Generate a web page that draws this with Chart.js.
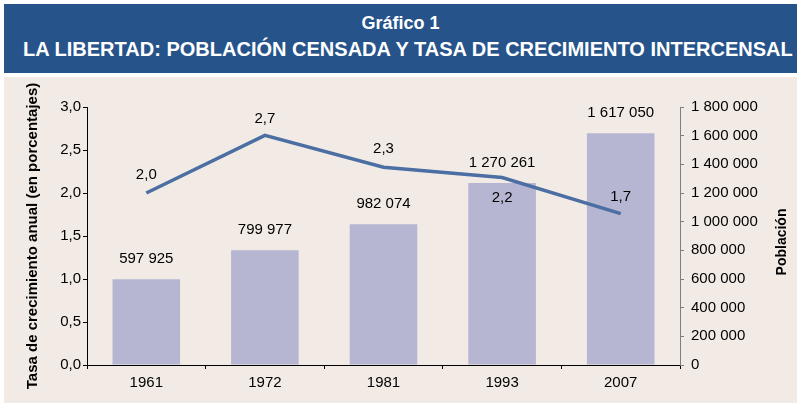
<!DOCTYPE html>
<html>
<head>
<meta charset="utf-8">
<script src="https://cdn.jsdelivr.net/npm/chart.js@4"></script>
<style>
  body { margin: 0; background: #ffffff; width: 799px; height: 405px; position: relative; overflow: hidden; }
  #header {
    position: absolute; left: 4px; top: 4px; width: 793px; height: 69px;
    background: #26538a; color: #ffffff; text-align: center;
    font-family: "Liberation Sans", Arial, sans-serif; font-weight: bold;
  }
  #header div { position: absolute; left: 0; right: 0; white-space: nowrap; }
  #header span { display: inline-block; transform-origin: center; }
  #header .l1 { top: 9px; font-size: 18px; }
  #header .l2 { top: 33px; font-size: 21px; }
  #panel { position: absolute; left: 4px; top: 77px; width: 793px; height: 326px; background: #f2ebe5; }
</style>
</head>
<body>
<div id="header">
  <div class="l1"><span id="t1">Gráfico 1</span></div>
  <div class="l2"><span id="t2">LA LIBERTAD: POBLACIÓN CENSADA Y TASA DE CRECIMIENTO INTERCENSAL</span></div>
</div>
<div id="panel"><canvas id="c" width="793" height="326"></canvas></div>
<script>
"use strict";

const years = ['1961', '1972', '1981', '1993', '2007'];
const poblacion = [597925, 799977, 982074, 1270261, 1617050];
const tasa = [2.0, 2.67, 2.30, 2.18, 1.76];
const tasaLabels = ['2,0', '2,7', '2,3', '2,2', '1,7'];
// label offset for the rate: negative = above the point
const tasaLabelDy = [-18, -17, -18, 20, -17];

// the long title line is narrower in the original
const t2 = document.getElementById('t2');
t2.style.transform = 'scaleX(' + (770 / t2.offsetWidth) + ')';

function miles(v) {
    return String(v).replace(/\B(?=(\d{3})+(?!\d))/g, ' ');
}

const valueLabels = {
    id: 'valueLabels',
    afterDatasetsDraw(chart) {
        const ctx = chart.ctx;
        ctx.save();
        ctx.font = '15px "Liberation Sans", Arial, sans-serif';
        ctx.fillStyle = '#000000';
        ctx.textAlign = 'center';
        ctx.textBaseline = 'middle';
        chart.getDatasetMeta(0).data.forEach((bar, i) => {
            ctx.fillText(miles(poblacion[i]), bar.x, bar.y - 20);
        });
        chart.getDatasetMeta(1).data.forEach((pt, i) => {
            ctx.fillText(tasaLabels[i], pt.x, pt.y + tasaLabelDy[i]);
        });
        // right axis title, read bottom to top
        const y1 = chart.scales.y1;
        ctx.font = 'bold 14px "Liberation Sans", Arial, sans-serif';
        ctx.translate(778, (y1.top + y1.bottom) / 2 + 6);
        ctx.rotate(-Math.PI / 2);
        ctx.fillText('Población', 0, 0);
        ctx.restore();
    }
};

Chart.defaults.font.family = '"Liberation Sans", Arial, sans-serif';
Chart.defaults.color = '#000000';

new Chart(document.getElementById('c'), {
    data: {
        labels: years,
        datasets: [
            {
                type: 'bar',
                label: 'Población',
                data: poblacion,
                yAxisID: 'y1',
                backgroundColor: '#b6b6d2',
                barPercentage: 0.57,
                categoryPercentage: 1,
                order: 2
            },
            {
                type: 'line',
                label: 'Tasa',
                data: tasa,
                yAxisID: 'y',
                borderColor: '#4b6ea3',
                borderWidth: 3.5,
                pointRadius: 0,
                tension: 0,
                order: 1
            }
        ]
    },
    options: {
        responsive: false,
        animation: false,
        layout: { padding: { top: 30, left: 0, right: 0, bottom: 0 } },
        plugins: {
            legend: { display: false },
            tooltip: { enabled: false }
        },
        scales: {
            x: {
                offset: true,
                grid: { display: true, drawOnChartArea: false, offset: true, color: '#000000', tickLength: 4 },
                border: { color: '#000000', width: 1 },
                ticks: { font: { size: 15 }, padding: 5 },
                afterFit: s => { s.height = 38; }
            },
            y: {
                position: 'left',
                min: 0, max: 3,
                ticks: {
                    stepSize: 0.5,
                    font: { size: 15 },
                    padding: 2,
                    callback: v => v.toFixed(1).replace('.', ',')
                },
                grid: { drawOnChartArea: false, color: '#000000', tickLength: 4 },
                border: { color: '#000000', width: 1 },
                title: {
                    display: true,
                    text: 'Tasa de crecimiento anual (en porcentajes)',
                    font: { size: 15, weight: 'bold' },
                    padding: { top: 20, bottom: 0 }
                },
                afterFit: s => { s.width = 83; }
            },
            y1: {
                position: 'right',
                min: 0, max: 1800000,
                ticks: {
                    stepSize: 200000,
                    font: { size: 15 },
                    padding: 7,
                    callback: v => miles(v)
                },
                grid: { drawOnChartArea: false, color: '#7f7f7f', tickLength: 4 },
                border: { color: '#7f7f7f', width: 1 },
                afterFit: s => { s.width = 117; }
            }
        }
    },
    plugins: [valueLabels]
});
</script>
</body>
</html>
